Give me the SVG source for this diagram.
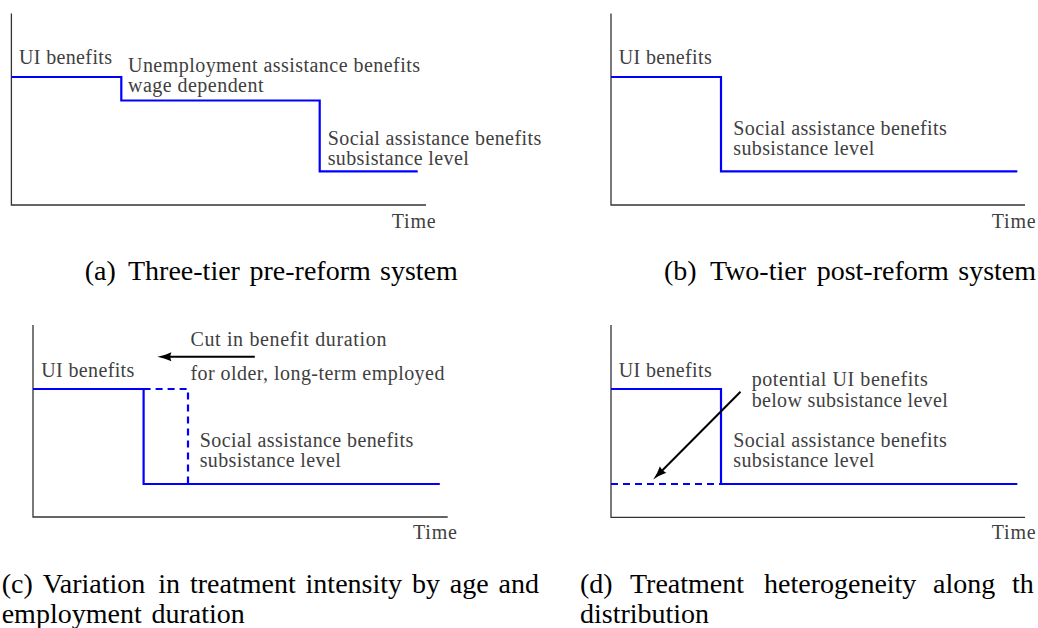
<svg xmlns="http://www.w3.org/2000/svg" width="1038" height="628" viewBox="0 0 1038 628">
<style>
.axis{fill:none;stroke:#333;stroke-width:1.3}
.ben{fill:none;stroke:#0000ff;stroke-width:2.2;stroke-linejoin:miter}
.dash{fill:none;stroke:#0000ff;stroke-width:2.2;stroke-dasharray:7 5}
.arr{fill:none;stroke:#000;stroke-width:2}
.lbl{font-family:"Liberation Serif","Times New Roman",serif;font-size:20px;fill:#404040}
.cap{font-family:"Liberation Serif","Times New Roman",serif;font-size:28px;fill:#000}
</style>
<defs>
<marker id="head" markerUnits="userSpaceOnUse" markerWidth="30" markerHeight="30" refX="0" refY="0" orient="auto" overflow="visible">
<path d="M6,0 Q-2,-1.5 -8,-4.5 Q-6,0 -8,4.5 Q-2,1.5 6,0 Z" fill="#000"/>
</marker>
</defs>
<rect width="1038" height="628" fill="#fff"/>

<g id="panel-a">
<path class="axis" d="M11.4,13.5 V205 H426"/>
<path class="ben" d="M11.4,77 H121.3 V100.5 H319.7 V171.3 H417.7"/>
<text class="lbl" x="19" y="63.5" textLength="93">UI benefits</text>
<text class="lbl" x="128" y="71.8" textLength="292">Unemployment assistance benefits</text>
<text class="lbl" x="128" y="92" textLength="135.5">wage dependent</text>
<text class="lbl" x="327.7" y="145" textLength="213.5">Social assistance benefits</text>
<text class="lbl" x="327.7" y="165.2" textLength="141">subsistance level</text>
<text class="lbl" x="391.7" y="227.7" textLength="44">Time</text>
<text class="cap" y="279.5"><tspan x="84.7">(a)</tspan><tspan x="128">Three-tier</tspan><tspan x="249.5">pre-reform</tspan><tspan x="380">system</tspan></text>
</g>

<g id="panel-b">
<path class="axis" d="M611,13.5 V205 H1025"/>
<path class="ben" d="M611,77 H721 V171.3 H1017.3"/>
<text class="lbl" x="618.7" y="63.5" textLength="93">UI benefits</text>
<text class="lbl" x="733.3" y="134.5" textLength="213.5">Social assistance benefits</text>
<text class="lbl" x="733.3" y="154.7" textLength="141">subsistance level</text>
<text class="lbl" x="991.7" y="227.7" textLength="44">Time</text>
<text class="cap" y="279.5"><tspan x="664">(b)</tspan><tspan x="710">Two-tier</tspan><tspan x="816.7">post-reform</tspan><tspan x="958.3">system</tspan></text>
</g>

<g id="panel-c">
<path class="axis" d="M33,325 V517 H447.7"/>
<path class="dash" d="M143.6,389 H188 V484"/>
<path class="ben" d="M33,389 H143.6 V484 H439.8"/>
<text class="lbl" x="41.3" y="376.7" textLength="93">UI benefits</text>
<text class="lbl" x="190.4" y="345.5" textLength="196">Cut in benefit duration</text>
<text class="lbl" x="190.4" y="379.5" textLength="254">for older, long-term employed</text>
<text class="lbl" x="199.7" y="446.8" textLength="213.5">Social assistance benefits</text>
<text class="lbl" x="199.7" y="467" textLength="141">subsistance level</text>
<text class="lbl" x="413" y="539.3" textLength="44">Time</text>
<text class="cap" y="593.3"><tspan x="1.7">(c)</tspan><tspan x="42.7">Variation</tspan><tspan x="158.3">in</tspan><tspan x="190">treatment</tspan><tspan x="305.6">intensity</tspan><tspan x="412">by</tspan><tspan x="449.8">age</tspan><tspan x="498.6">and</tspan></text>
<text class="cap" y="623"><tspan x="1.7">employment</tspan><tspan x="151.5">duration</tspan></text>
</g>

<g id="panel-d">
<path class="axis" d="M611,325 V517.3 H1025"/>
<path class="dash" d="M611,484 H721"/>
<path class="ben" d="M611,389 H721 V484 H1017.3"/>
<text class="lbl" x="618.7" y="376.7" textLength="93">UI benefits</text>
<text class="lbl" x="751.7" y="386.3" textLength="176">potential UI benefits</text>
<text class="lbl" x="751.7" y="406.5" textLength="196">below subsistance level</text>
<text class="lbl" x="733.3" y="447" textLength="213.5">Social assistance benefits</text>
<text class="lbl" x="733.3" y="467.2" textLength="141">subsistance level</text>
<text class="lbl" x="991.7" y="539.3" textLength="44">Time</text>
<text class="cap" y="593.3"><tspan x="580">(d)</tspan><tspan x="630">Treatment</tspan><tspan x="764">heterogeneity</tspan><tspan x="933">along</tspan><tspan x="1012">th</tspan></text>
<text class="cap" x="580" y="623">distribution</text>
</g>

<g id="connectors">
<path class="arr" marker-end="url(#head)" d="M254.8,356.7 H163.4"/>
<path class="arr" marker-end="url(#head)" d="M740.5,391.7 L657.5,475.2"/>
</g>
</svg>
